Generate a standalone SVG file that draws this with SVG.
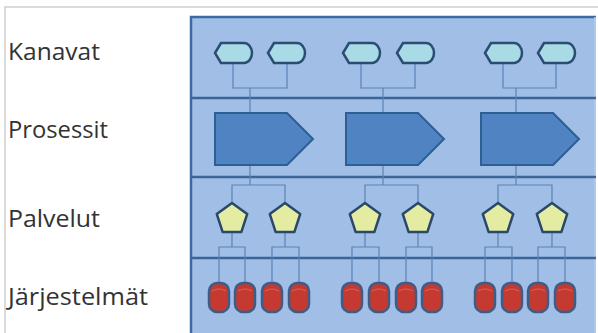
<svg xmlns="http://www.w3.org/2000/svg" width="598" height="333" viewBox="0 0 598 333">
  <style>
    .label { font-family: "Open Sans", "Noto Sans", "Liberation Sans", sans-serif; font-size: 24px; fill: #333333; }
    .frame { stroke: #cfcfcf; stroke-width: 1.5; fill: none; }
    .divider { stroke: #3b6597; stroke-width: 2.5; }
    .conn { stroke: #5a84b8; stroke-width: 1.2; fill: none; }
    .channel { fill: #a9dbe6; stroke: #2b4d73; stroke-width: 2.5; }
    .process { fill: #4f83c2; stroke: #2f5e93; stroke-width: 2; }
    .service { fill: #e4eba2; stroke: #29496b; stroke-width: 2.5; stroke-linejoin: round; }
    .system { fill: #c43a30; stroke: #3d5d88; stroke-width: 2.5; }
    .systop { fill: none; stroke: #d9675c; stroke-width: 1; }
  </style>
  <defs>
    <path id="channel" d="M0,10 L6,0 L29,0 A8,10 0 0 1 29,20 L6,20 Z"/>
    <path id="process" d="M0,0 L72,0 L98,26 L72,52 L0,52 Z"/>
    <polygon id="service" points="0,-16 15.2,-4.9 9.4,12.9 -9.4,12.9 -15.2,-4.9"/>
    <g id="system">
      <rect x="0" y="0" width="20" height="29" rx="8" ry="8" class="system"/>
      <path d="M3,8 Q10,4 17,8" class="systop"/>
    </g>
  </defs>

  <!-- outer frame -->
  <path class="frame" d="M5,340 L5,7 L600,7"/>

  <!-- layer labels -->
  <text class="label" x="8" y="60" textLength="92" lengthAdjust="spacingAndGlyphs">Kanavat</text>
  <text class="label" x="8" y="138" textLength="100" lengthAdjust="spacingAndGlyphs">Prosessit</text>
  <text class="label" x="8" y="227" textLength="92" lengthAdjust="spacingAndGlyphs">Palvelut</text>
  <text class="label" x="8" y="305" textLength="140" lengthAdjust="spacingAndGlyphs">Järjestelmät</text>

  <!-- layer panel -->
  <g id="panel">
    <rect x="190" y="16" width="406" height="330" fill="#a0bee6"/>
    <path d="M191,340 L191,17 L596,17" fill="none" stroke="#3c6aa2" stroke-width="2.5"/>
    <line x1="595" y1="17" x2="595" y2="340" stroke="#b7cdea" stroke-width="1.5"/>
    <line class="divider" x1="191" y1="98" x2="596" y2="98"/>
    <line class="divider" x1="191" y1="177" x2="596" y2="177"/>
    <line class="divider" x1="191" y1="258" x2="596" y2="258"/>
  </g>

  <!-- connectors -->
  <g id="connectors">
    <!-- channels to processes -->
    <path class="conn" d="M233,63 V88 H287 V63 M250,88 V113"/>
    <path class="conn" d="M361,63 V88 H415 V63 M383,88 V113"/>
    <path class="conn" d="M503,63 V88 H556 V63 M516,88 V113"/>
    <!-- processes to services -->
    <path class="conn" d="M250,165 V185 M232,203 V185 H285 V203"/>
    <path class="conn" d="M383,165 V185 M365,203 V185 H418 V203"/>
    <path class="conn" d="M516,165 V185 M498,203 V185 H552 V203"/>
    <!-- services to systems -->
    <path class="conn" d="M232,232 V247 M219,283 V247 H245 V283"/>
    <path class="conn" d="M285,232 V247 M272,283 V247 H299 V283"/>
    <path class="conn" d="M365,232 V247 M352,283 V247 H379 V283"/>
    <path class="conn" d="M418,232 V247 M406,283 V247 H432 V283"/>
    <path class="conn" d="M498,232 V247 M485,283 V247 H512 V283"/>
    <path class="conn" d="M552,232 V247 M538,283 V247 H565 V283"/>
  </g>

  <!-- channels -->
  <g id="channels">
    <use href="#channel" class="channel" x="215" y="43"/>
    <use href="#channel" class="channel" x="268" y="43"/>
    <use href="#channel" class="channel" x="343" y="43"/>
    <use href="#channel" class="channel" x="397" y="43"/>
    <use href="#channel" class="channel" x="485" y="43"/>
    <use href="#channel" class="channel" x="538" y="43"/>
  </g>

  <!-- processes -->
  <g id="processes">
    <use href="#process" class="process" x="215" y="113"/>
    <use href="#process" class="process" x="346" y="113"/>
    <use href="#process" class="process" x="481" y="113"/>
  </g>

  <!-- services -->
  <g id="services">
    <use href="#service" class="service" x="232" y="219"/>
    <use href="#service" class="service" x="285" y="219"/>
    <use href="#service" class="service" x="365" y="219"/>
    <use href="#service" class="service" x="418" y="219"/>
    <use href="#service" class="service" x="498" y="219"/>
    <use href="#service" class="service" x="552" y="219"/>
  </g>

  <!-- systems -->
  <g id="systems">
    <use href="#system" x="209" y="283"/>
    <use href="#system" x="235" y="283"/>
    <use href="#system" x="262" y="283"/>
    <use href="#system" x="289" y="283"/>
    <use href="#system" x="342" y="283"/>
    <use href="#system" x="369" y="283"/>
    <use href="#system" x="396" y="283"/>
    <use href="#system" x="422" y="283"/>
    <use href="#system" x="475" y="283"/>
    <use href="#system" x="502" y="283"/>
    <use href="#system" x="528" y="283"/>
    <use href="#system" x="555" y="283"/>
  </g>
</svg>
